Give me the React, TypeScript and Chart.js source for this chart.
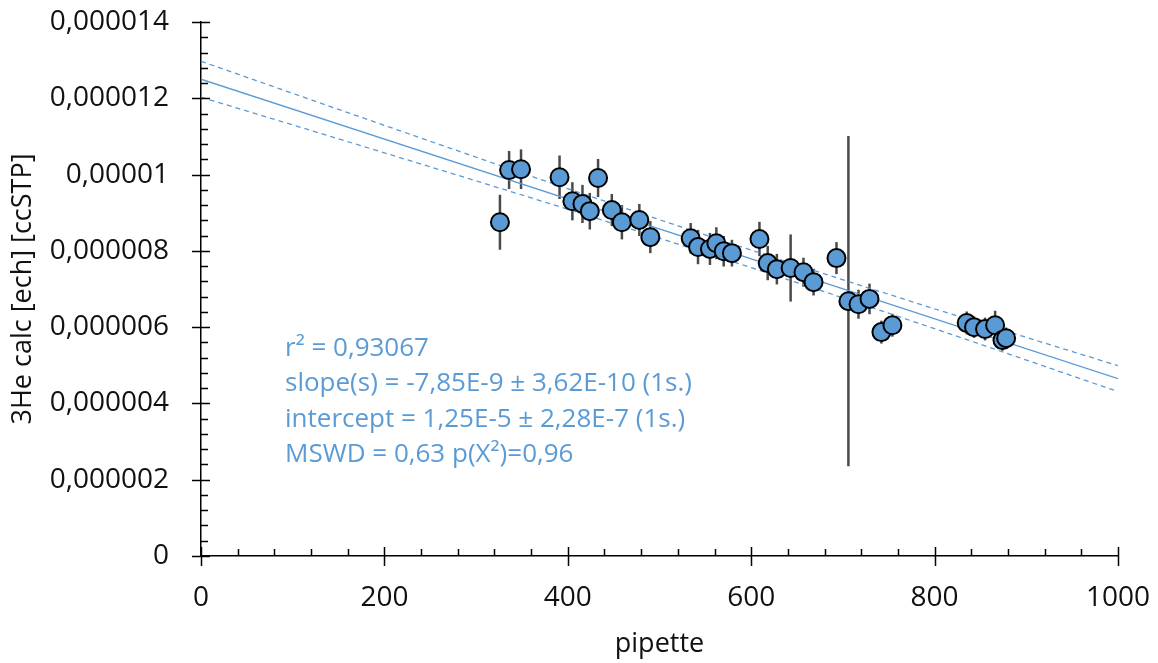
import React, { useEffect, useRef } from 'react';
import { Chart, registerables } from 'chart.js';

Chart.register(...registerables);

// ---- data ----
const pipette = [326, 336, 349, 391, 405, 416, 424, 433, 448, 459, 478, 490, 534, 542, 555, 562, 570, 579, 609, 618, 628, 643, 657, 668, 693, 706, 717, 729, 742, 754, 835, 843, 855, 866, 874, 878];
const he3 = [8.75e-6, 10.12e-6, 10.14e-6, 9.93e-6, 9.30e-6, 9.23e-6, 9.04e-6, 9.91e-6, 9.07e-6, 8.75e-6, 8.81e-6, 8.36e-6, 8.33e-6, 8.10e-6, 8.05e-6, 8.20e-6, 7.99e-6, 7.94e-6, 8.31e-6, 7.68e-6, 7.52e-6, 7.55e-6, 7.44e-6, 7.18e-6, 7.81e-6, 6.68e-6, 6.60e-6, 6.74e-6, 5.87e-6, 6.05e-6, 6.11e-6, 6.00e-6, 5.95e-6, 6.05e-6, 5.66e-6, 5.71e-6];
const he3Err = [0.72e-6, 0.5e-6, 0.52e-6, 0.57e-6, 0.5e-6, 0.5e-6, 0.48e-6, 0.5e-6, 0.42e-6, 0.45e-6, 0.42e-6, 0.42e-6, 0.4e-6, 0.45e-6, 0.42e-6, 0.42e-6, 0.4e-6, 0.35e-6, 0.45e-6, 0.45e-6, 0.4e-6, 0.88e-6, 0.38e-6, 0.35e-6, 0.42e-6, 4.33e-6, 0.38e-6, 0.4e-6, 0.3e-6, 0.3e-6, 0.3e-6, 0.28e-6, 0.3e-6, 0.38e-6, 0.28e-6, 0.28e-6];

const fitIntercept = 1.25e-5;
const fitSlope = -7.85e-9;
const fitX = [0, 1000];

const bandX = [0, 200, 400, 600, 800, 1000];
const bandUpper = [12.97e-6, 11.29e-6, 9.63e-6, 8.02e-6, 6.48e-6, 4.99e-6];
const bandLower = [12.03e-6, 10.57e-6, 9.09e-6, 7.56e-6, 5.96e-6, 4.31e-6];

const statsLines = [
  'r² = 0,93067',
  'slope(s) = -7,85E-9 ± 3,62E-10 (1s.)',
  'intercept = 1,25E-5 ± 2,28E-7 (1s.)',
  'MSWD = 0,63 p(X²)=0,96',
];

const xTitle = 'pipette';
const yTitle = '3He calc [ech] [ccSTP]';

const BLUE = '#5B9BD5';
const FONT = "'Open Sans', sans-serif";

const errorBarPlugin = {
  id: 'errorBars',
  beforeDatasetsDraw(chart: any) {
    const { ctx, scales } = chart;
    const xs = scales.x, ys = scales.y;
    ctx.save();
    ctx.strokeStyle = '#4a4a4a';
    ctx.lineWidth = 2.5;
    pipette.forEach((px, i) => {
      const x = xs.getPixelForValue(px);
      const y1 = ys.getPixelForValue(he3[i] - he3Err[i]);
      const y2 = ys.getPixelForValue(he3[i] + he3Err[i]);
      ctx.beginPath();
      ctx.moveTo(x, y1);
      ctx.lineTo(x, y2);
      ctx.stroke();
    });
    ctx.restore();
  },
};

const axisTicksPlugin = {
  id: 'axisTicks',
  afterDraw(chart: any) {
    const { ctx, scales, chartArea } = chart;
    const xs = scales.x, ys = scales.y;
    ctx.save();
    ctx.strokeStyle = '#000';
    ctx.lineWidth = 1.5;
    for (let i = 0; i <= 35; i++) {
      const v = (i * 0.4e-6);
      const y = Math.round(ys.getPixelForValue(v)) + 0.5;
      const major = i % 5 === 0;
      ctx.beginPath();
      ctx.moveTo(chartArea.left - (major ? 9 : 0), y);
      ctx.lineTo(chartArea.left + (major ? 9 : 7), y);
      ctx.stroke();
    }
    for (let i = 0; i <= 25; i++) {
      const v = i * 40;
      const x = Math.round(xs.getPixelForValue(v)) + 0.5;
      const major = i % 5 === 0;
      ctx.beginPath();
      ctx.moveTo(x, chartArea.bottom - (major ? 9 : 7));
      ctx.lineTo(x, chartArea.bottom + (major ? 10 : 0));
      ctx.stroke();
    }
    ctx.restore();
  },
};

const statsPlugin = {
  id: 'stats',
  afterDatasetsDraw(chart: any) {
    const { ctx, chartArea } = chart;
    ctx.save();
    ctx.fillStyle = BLUE;
    ctx.font = `26px ${FONT}`;
    ctx.textAlign = 'left';
    ctx.textBaseline = 'alphabetic';
    statsLines.forEach((t, i) => {
      ctx.fillText(t, chartArea.left + 84, 356 + i * 35.3);
    });
    ctx.restore();
  },
};

const fmt = (v: number) => {
  if (v === 0) return '0';
  return parseFloat(v.toPrecision(4)).toString().replace('.', ',');
};

const clearPad = (s: any) => {
  s.paddingTop = 0;
  s.paddingBottom = 0;
  s.paddingLeft = 0;
  s.paddingRight = 0;
};

export default function App() {
  const ref = useRef<HTMLCanvasElement>(null);
  useEffect(() => {
    document.body.style.margin = '0';
    const canvas = ref.current!;
    const chart = new Chart(canvas, {
      type: 'scatter',
      data: {
        datasets: [
          {
            label: 'data',
            data: pipette.map((x, i) => ({ x, y: he3[i] })),
            backgroundColor: BLUE,
            borderColor: '#000',
            borderWidth: 2,
            pointRadius: 9,
            order: 0,
          } as any,
          {
            type: 'line',
            label: 'fit',
            data: fitX.map((x) => ({ x, y: fitIntercept + fitSlope * x })),
            borderColor: BLUE,
            borderWidth: 1.3,
            pointRadius: 0,
            fill: false,
            order: 2,
          },
          {
            type: 'line',
            label: 'upper',
            data: bandX.map((x, i) => ({ x, y: bandUpper[i] })),
            borderColor: BLUE,
            borderWidth: 1.3,
            borderDash: [5, 4],
            pointRadius: 0,
            cubicInterpolationMode: 'monotone',
            fill: false,
            order: 2,
          },
          {
            type: 'line',
            label: 'lower',
            data: bandX.map((x, i) => ({ x, y: bandLower[i] })),
            borderColor: BLUE,
            borderWidth: 1.3,
            borderDash: [5, 4],
            pointRadius: 0,
            cubicInterpolationMode: 'monotone',
            fill: false,
            order: 2,
          },
        ],
      },
      options: {
        animation: false,
        responsive: false,
        devicePixelRatio: 1,
        layout: { padding: { top: 22, right: 40, left: 0, bottom: 0 } },
        plugins: {
          legend: { display: false },
          tooltip: { enabled: false },
        },
        scales: {
          x: {
            type: 'linear',
            min: 0,
            max: 1000,
            ticks: {
              stepSize: 200,
              padding: 25,
              color: '#111',
              font: { family: FONT, size: 28 },
              callback: (v: any) => fmt(Number(v)),
            },
            grid: { display: false, drawTicks: false, tickLength: 0 },
            border: { display: true, color: '#000', width: 1.5 },
            title: {
              display: true,
              text: xTitle,
              color: '#111',
              font: { family: FONT, size: 27 },
              padding: { top: 0, bottom: 2 },
            },
            afterFit: (s: any) => { s.height = 107; clearPad(s); },
          },
          y: {
            type: 'linear',
            min: 0,
            max: 14e-6,
            ticks: {
              stepSize: 2e-6,
              padding: 32,
              color: '#111',
              font: { family: FONT, size: 28 },
              callback: (v: any) => fmt(Number(v)),
            },
            grid: { display: false, drawTicks: false, tickLength: 0 },
            border: { display: true, color: '#000', width: 1.5 },
            title: {
              display: true,
              text: yTitle,
              color: '#111',
              font: { family: FONT, size: 27 },
              padding: { top: 7, bottom: 0 },
            },
            afterFit: (s: any) => { s.width = 201; clearPad(s); },
          },
        },
      },
      plugins: [errorBarPlugin, axisTicksPlugin, statsPlugin],
    });
    return () => chart.destroy();
  }, []);
  return (
    <div style={{ width: 1158, height: 663 }}>
      <canvas ref={ref} width={1158} height={663} style={{ display: 'block' }} />
    </div>
  );
}
